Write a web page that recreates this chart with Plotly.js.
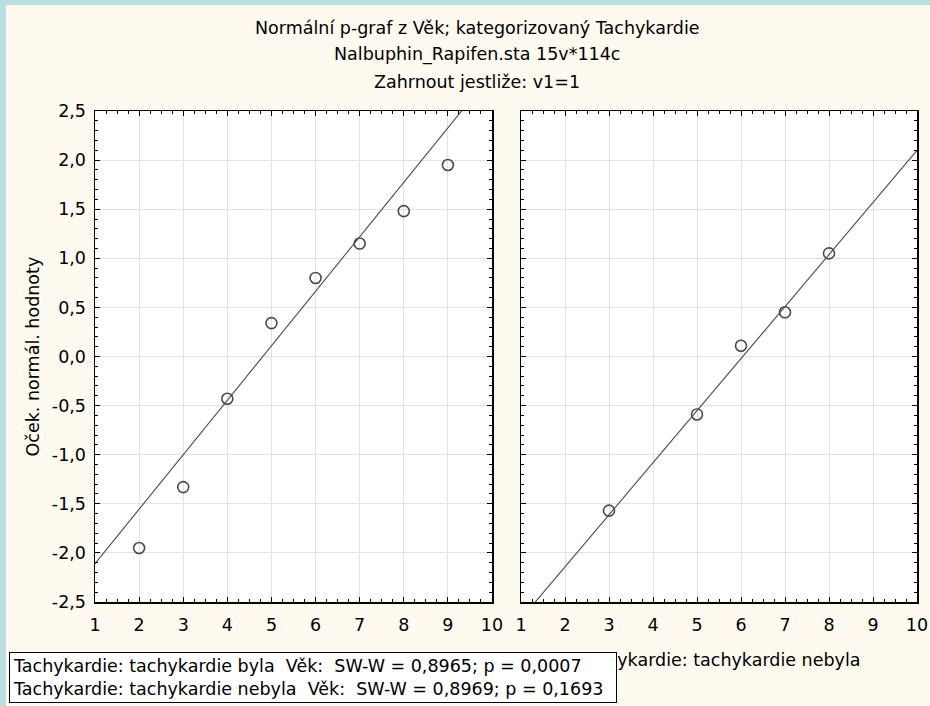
<!DOCTYPE html>
<html>
<head>
<meta charset="utf-8">
<script src="https://cdn.plot.ly/plotly-3.0.1.min.js"></script>
<style>html,body{margin:0;padding:0;background:#b9dfe3;}#chart{width:930px;height:706px;}</style>
</head>
<body>
<div id="chart"></div>
<script>
// ---- data ----
const titleLines = ["Normální p-graf z Věk; kategorizovaný Tachykardie", "Nalbuphin_Rapifen.sta 15v*114c", "Zahrnout jestliže: v1=1"];
const groupNames = ["Tachykardie: tachykardie byla", "Tachykardie: tachykardie nebyla"];
const yAxisTitle = "Oček. normál. hodnoty";
const legendLines = [
  "Tachykardie: tachykardie byla  Věk:  SW-W = 0,8965; p = 0,0007",
  "Tachykardie: tachykardie nebyla  Věk:  SW-W = 0,8969; p = 0,1693"
];
const bylaX = [2, 3, 4, 5, 6, 7, 8, 9];
const bylaY = [-1.95, -1.33, -0.43, 0.34, 0.80, 1.15, 1.48, 1.95];
const nebylaX = [3, 5, 6, 7, 8];
const nebylaY = [-1.57, -0.59, 0.11, 0.45, 1.05];
// fitted normal lines: value at x=1 and slope
const bylaFit = [-2.11, 0.5548];
const nebylaFit = [-2.672, 0.530];
const fitX = [1, 10];
const xTickVals = [1, 2, 3, 4, 5, 6, 7, 8, 9, 10];
const yTickVals = [-2.5, -2.0, -1.5, -1.0, -0.5, 0.0, 0.5, 1.0, 1.5, 2.0, 2.5];
const yTickText = ["-2,5", "-2,0", "-1,5", "-1,0", "-0,5", "0,0", "0,5", "1,0", "1,5", "2,0", "2,5"];

// ---- layout helpers ----
const W = 930, H = 706;
const fx = p => p / W;
const fy = p => 1 - p / H;
const FONT = "DejaVu Sans, sans-serif";
const FS = 17.5;
const txtFont = {family: FONT, size: FS, color: "#000"};

function fitLine(fit) { return fitX.map(x => fit[0] + fit[1] * (x - 1)); }

const markerStyle = {symbol: "circle-open", size: 11, color: "#4a4a4a", line: {width: 1.6, color: "#4a4a4a"}};
const lineStyle = {color: "#4a4a4a", width: 1.1};

const traces = [
  {x: fitX, y: fitLine(bylaFit), xaxis: "x", yaxis: "y", mode: "lines", line: lineStyle, hoverinfo: "skip"},
  {x: bylaX, y: bylaY, xaxis: "x", yaxis: "y", mode: "markers", marker: markerStyle, cliponaxis: false},
  {x: fitX, y: fitLine(nebylaFit), xaxis: "x2", yaxis: "y2", mode: "lines", line: lineStyle, hoverinfo: "skip"},
  {x: nebylaX, y: nebylaY, xaxis: "x2", yaxis: "y2", mode: "markers", marker: markerStyle, cliponaxis: false}
];

function xAxis(dom, anchor) {
  return {
    domain: dom, anchor: anchor, range: [1, 10], tickmode: "array", tickvals: xTickVals,
    ticks: "inside", ticklen: 5, tickwidth: 1, tickcolor: "#000", ticklabelstandoff: 6,
    showline: true, linecolor: "#000", linewidth: 1.5, mirror: "allticks",
    showgrid: true, gridcolor: "#e1e1e1", gridwidth: 1, zeroline: false,
    minor: {tickmode: "linear", tick0: 1, dtick: 0.25, ticks: "inside", ticklen: 3, tickwidth: 1, tickcolor: "#000", showgrid: false},
    tickfont: txtFont, fixedrange: true
  };
}
function yAxis(dom, anchor, labels) {
  return {
    domain: dom, anchor: anchor, range: [-2.5, 2.5], tickmode: "array", tickvals: yTickVals, ticktext: yTickText,
    showticklabels: labels, ticklabelstandoff: 4,
    ticks: "inside", ticklen: 5, tickwidth: 1, tickcolor: "#000",
    showline: true, linecolor: "#000", linewidth: 1.5, mirror: "allticks",
    showgrid: true, gridcolor: "#e1e1e1", gridwidth: 1, zeroline: false,
    minor: {tickmode: "linear", tick0: -2.5, dtick: 0.1, ticks: "inside", ticklen: 3, tickwidth: 1, tickcolor: "#000", showgrid: false},
    tickfont: txtFont, fixedrange: true
  };
}

const xd1 = [fx(95), fx(492)], xd2 = [fx(521), fx(917)];
const yd = [fy(602), fy(111)];

const annotations = [];
const titleY = [28, 55, 82];
titleLines.forEach((t, i) => annotations.push({
  text: t, xref: "paper", yref: "paper", x: fx(477), y: fy(titleY[i]), xanchor: "center", yanchor: "middle",
  showarrow: false, font: txtFont
}));
annotations.push({text: yAxisTitle, xref: "paper", yref: "paper", x: fx(32), y: (yd[0] + yd[1]) / 2, textangle: -90,
  xanchor: "center", yanchor: "middle", showarrow: false, font: txtFont});
annotations.push({text: groupNames[0], xref: "paper", yref: "paper", x: (xd1[0] + xd1[1]) / 2, y: fy(660), xanchor: "center", yanchor: "middle", showarrow: false, font: txtFont});
annotations.push({text: groupNames[1], xref: "paper", yref: "paper", x: (xd2[0] + xd2[1]) / 2, y: fy(660), xanchor: "center", yanchor: "middle", showarrow: false, font: txtFont});
annotations.push({
  text: legendLines.map(s => s.replace(/ /g, "\u00a0")).join("<br>"),
  xref: "paper", yref: "paper", x: fx(9), y: fy(652), xanchor: "left", yanchor: "top", align: "left",
  showarrow: false, bgcolor: "#ffffff", bordercolor: "#000", borderwidth: 1, borderpad: 3,
  width: 600, font: txtFont
});

const layout = {
  width: W, height: H, margin: {l: 0, r: 0, t: 0, b: 0},
  paper_bgcolor: "#b9dfe3", plot_bgcolor: "rgba(0,0,0,0)",
  showlegend: false,
  xaxis: xAxis(xd1, "y"), yaxis: yAxis(yd, "x", true),
  xaxis2: xAxis(xd2, "y2"), yaxis2: yAxis(yd, "x2", false),
  shapes: [
    {type: "rect", xref: "paper", yref: "paper", x0: fx(6), x1: 1, y0: 0, y1: fy(5), fillcolor: "#fffaf0", line: {width: 0}, layer: "below"},
    {type: "rect", xref: "x domain", yref: "y domain", x0: 0, x1: 1, y0: 0, y1: 1, fillcolor: "#ffffff", line: {width: 0}, layer: "below"},
    {type: "rect", xref: "x2 domain", yref: "y2 domain", x0: 0, x1: 1, y0: 0, y1: 1, fillcolor: "#ffffff", line: {width: 0}, layer: "below"}
  ],
  annotations: annotations,
  hovermode: false
};

Plotly.newPlot("chart", traces, layout, {displayModeBar: false, staticPlot: true});
</script>
</body>
</html>
